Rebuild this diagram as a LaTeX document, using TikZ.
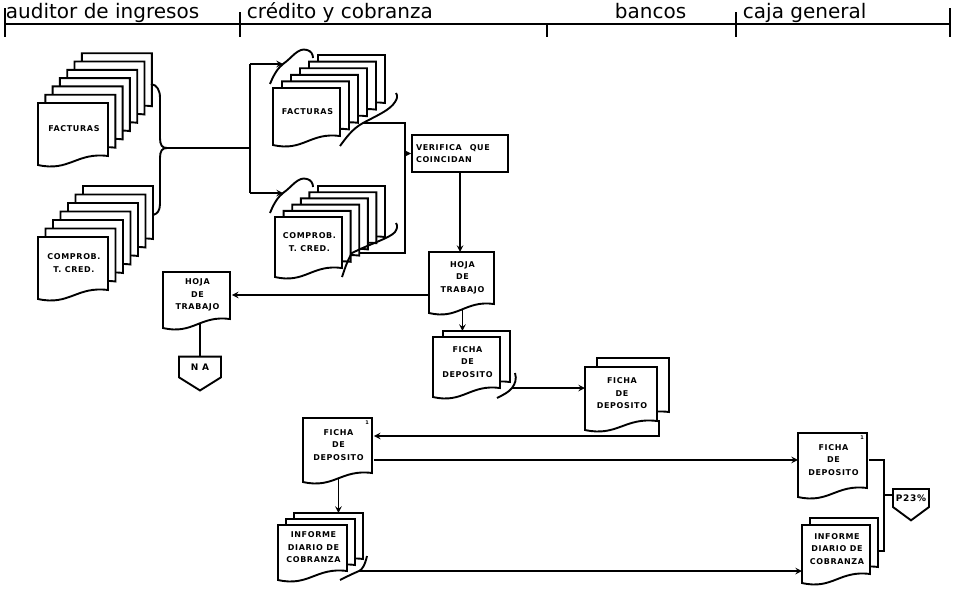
\documentclass[tikz,border=0pt]{standalone}
\usepackage{fontspec}
\setmainfont{DejaVu Sans}
\newfontfamily\docfont{DejaVu Sans}[LetterSpace=8]
\usetikzlibrary{positioning,shapes.symbols}
\pgfdeclarelayer{wires}
\pgfsetlayers{wires,main}

% one sheet: x, y (top left), width, height
\newcommand\sheet[4]{%
  \filldraw[fill=white] ({#1},{#2}) -- ({#1},{#2+#4})
    .. controls ({#1+0.45*#3},{#2+#4+7}) and ({#1+0.55*#3},{#2+#4-13}) .. ({#1+#3},{#2+#4-9})
    -- ({#1+#3},{#2}) -- cycle;}
% sheets behind the front one: x, y, w, h, count, dx, dy
\newcommand\backsheets[7]{%
  \foreach \k in {#5,...,1}{\sheet{#1+\k*#6}{#2-\k*#7}{#3}{#4}}}
% front sheet with its label: name, x, y, w, h, text
\newcommand\docnode[6]{%
  \sheet{#2}{#3}{#4}{#5}
  \node[doc,minimum width=#4pt,minimum height={(#5-12)*1pt},anchor=north west] (#1) at (#2,#3) {#6};}

\begin{document}
\begin{tikzpicture}[x=1pt,y=-1pt,>=stealth,line width=1.9pt]
  \tikzstyle{lane}=[font=\fontsize{20}{24}\selectfont,anchor=base west,inner sep=0pt]
  \tikzstyle{doc}=[font=\docfont\bfseries\fontsize{8}{12.5}\selectfont,align=center,inner sep=0pt]
  \tikzstyle{proc}=[draw,fill=white,minimum width=96pt,minimum height=37pt,text width=88pt,
    align=left,inner sep=0pt,font=\docfont\bfseries\fontsize{8}{12}\selectfont]
  \tikzstyle{offpage}=[draw,fill=white,shape=signal,signal to=south,inner sep=1pt,
    font=\docfont\bfseries\fontsize{9}{9}\selectfont]
  \tikzstyle{pgno}=[font=\bfseries\fontsize{5}{5}\selectfont,inner sep=0pt]
  \useasboundingbox (0,0) rectangle (953,589);

  % header
  \node[lane] (audit) at (5,19) {auditor de ingresos};
  \node[lane] (credit) at (246,19) {crédito y cobranza};
  \node[lane] (banks) at (614,19) {bancos};
  \node[lane] (cash) at (742,19) {caja general};
  \draw (5,24) -- (950,24);
  \foreach \x/\t in {5/8,240/12,547/24,736/12,950/8}
    \draw (\x,\t) -- (\x,37);

  % auditor de ingresos
  \backsheets{38}{103}{70}{62}{6}{7.3}{8.3}
  \docnode{facA}{38}{103}{70}{62}{FACTURAS}
  \backsheets{38}{237}{70}{62}{6}{7.5}{8.5}
  \docnode{comA}{38}{237}{70}{62}{COMPROB.\\T. CRED.}
  \coordinate (aJoin) at (167,148);
  \draw (151,84) .. controls (157,85) and (160,90) .. (160,98) -- (160,138)
    .. controls (160,145) and (162,148) .. (aJoin)
    .. controls (162,148) and (160,151) .. (160,158) -- (160,204)
    .. controls (160,211) and (157,214) .. (153,215);

  % credito y cobranza
  \backsheets{273}{88}{67}{57}{5}{9}{6.6}
  \docnode{facC}{273}{88}{67}{57}{FACTURAS}
  \backsheets{275}{217}{67}{60}{5}{8.6}{6.2}
  \docnode{comC}{275}{217}{67}{60}{COMPROB.\\T. CRED.}
  \coordinate (facCin) at (283,64);
  \coordinate (facCout) at (363,123);
  \coordinate (comCin) at (283,193);
  \coordinate (comCout) at (352,253);
  \draw (270,84) .. controls (274,74) and (278,68) .. (facCin)
    .. controls (292,58) and (298,47) .. (307,50) .. controls (311,51) and (313,54) .. (313,58);
  \draw (340,146) .. controls (346,138) and (352,129) .. (facCout)
    .. controls (378,115) and (390,110) .. (395,102) .. controls (397,99) and (398,96) .. (396,93);
  \draw (270,213) .. controls (274,203) and (278,197) .. (comCin)
    .. controls (292,187) and (298,176) .. (307,179) .. controls (311,180) and (313,183) .. (313,187);
  \draw (342,277) .. controls (345,268) and (348,259) .. (comCout)
    .. controls (372,243) and (390,238) .. (395,232) .. controls (397,229) and (398,226) .. (396,223);
  \node[proc] (verif) at (460,153.5) {VERIFICA\quad QUE\\COINCIDAN};
  \docnode{hojaC}{429}{252}{65}{61}{HOJA\\DE\\TRABAJO}
  \backsheets{433}{337}{67}{60}{1}{10}{6}
  \docnode{fichaC1}{433}{337}{67}{60}{FICHA\\DE\\DEPOSITO}
  \coordinate (fC1out) at (512,388);
  \draw (497,398) .. controls (503,395) and (509,392) .. (fC1out)
    .. controls (515,384) and (517,379) .. (515,373);
  \docnode{fichaC2}{303}{418}{69}{64}{FICHA\\DE\\DEPOSITO}
  \node[pgno] (no1) at (367,423) {1};
  \backsheets{278}{525}{69}{55}{2}{8}{6}
  \docnode{informeC}{278}{525}{69}{55}{INFORME\\DIARIO DE\\COBRANZA}
  \coordinate (iCout) at (359,571);
  \draw (367,556) .. controls (365,565) and (362,570) .. (iCout)
    .. controls (352,574) and (346,577) .. (340,580);

  % auditor: hoja de trabajo
  \docnode{hojaL}{163}{272}{67}{56}{HOJA\\DE\\TRABAJO}
  \node[offpage,minimum width=42pt,minimum height=27pt,signal pointer angle=116] (na) at (200,367) {N A};

  % bancos
  \backsheets{585}{367}{72}{63}{1}{12}{9}
  \docnode{fichaB}{585}{367}{72}{63}{FICHA\\DE\\DEPOSITO}

  % caja general
  \docnode{fichaCaja}{798}{433}{69}{64}{FICHA\\DE\\DEPOSITO}
  \node[pgno] (no2) at (862,438) {1};
  \backsheets{802}{525}{68}{58}{1}{8}{7}
  \docnode{informeCaja}{802}{525}{68}{58}{INFORME\\DIARIO DE\\COBRANZA}
  \node[offpage,minimum width=36pt,minimum height=30pt,signal pointer angle=107] (p23) at (911,498) {P23\%};
  \coordinate (cj) at (884,495);

  % connectors
  \begin{pgfonlayer}{wires}
  \begin{scope}[line width=1.9pt]
    \draw (aJoin) -- (250,148);
    \draw (250,64) -- (250,193);
    \draw[->] (250,64) -- (facCin);
    \draw[->] (250,193) -- (comCin);
    \draw (facCout) -- (405,123) -- (405,253) -- (comCout);
    \draw[->] (405,153.5) -- (verif.west);
    \draw[->] (verif.south) -- (verif.south |- hojaC.north);
    \draw[->] (hojaC.west |- hojaL.east) -- (hojaL.east);
    \draw (na.north |- hojaL.south) -- (na.north);
    \draw[->,shorten >=6pt] (hojaC.south) -- (hojaC.south |- fichaC1.north);
    \draw[->] (fC1out) -- (fC1out -| fichaB.west);
    \draw[->] (fichaB.south east) |- ([yshift=9pt]fichaC2.east);
    \draw[->] (fichaC2.east |- fichaCaja.west) -- (fichaCaja.west);
    \draw[->,shorten >=12pt] (fichaC2.south) -- (fichaC2.south |- informeC.north);
    \draw[->] (iCout) -- (iCout -| informeCaja.west);
    \draw (fichaCaja.east) -| (cj) -- (cj -| p23.west);
    \draw (cj) |- ([yshift=-2pt]informeCaja.east);
  \end{scope}
  \end{pgfonlayer}
\end{tikzpicture}
\end{document}
